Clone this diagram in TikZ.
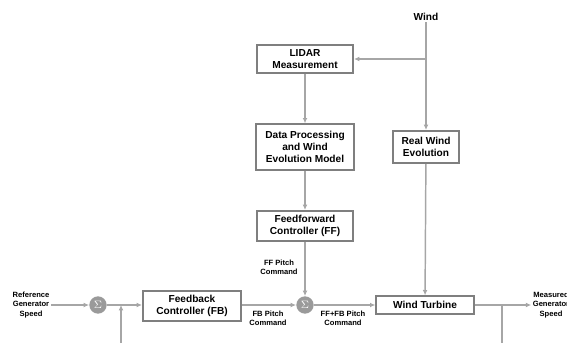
\documentclass[tikz,border=0pt]{standalone}
\usepackage{fontspec}
\setmainfont{Liberation Sans}
\usetikzlibrary{arrows.meta}
\definecolor{boxgray}{HTML}{7F7F7F}
\definecolor{linegray}{HTML}{A6A6A6}
\definecolor{sumgray}{HTML}{9A9A9A}
\tikzset{
  block/.style={draw=boxgray, line width=1.5pt, fill=white, align=center, inner sep=0pt,
    font=\bfseries\fontsize{7.6}{9.2}\selectfont},
  sumnode/.style={circle, fill=sumgray, minimum size=13pt, inner sep=0pt, text=white,
    font=\fontsize{8}{8}\selectfont},
  sig/.style={align=center, inner sep=1pt, font=\bfseries\fontsize{5.7}{6.8}\selectfont},
  flow/.style={draw=linegray, line width=1.1pt, -{Latex[length=4pt,width=3.6pt]}},
  wire/.style={draw=linegray, line width=1.1pt}
}
\begin{document}
\begin{tikzpicture}[x=0.75pt,y=-0.75pt]
    \useasboundingbox (0,0) rectangle (567,343);

    \node[sig, font=\bfseries\fontsize{7.6}{8}\selectfont] (wind) at (426, 17) {Wind};
    \coordinate (tap) at (426, 59);

    \node[block, minimum width=72pt, minimum height=21pt] (lidar) at (305, 59) {LIDAR\\Measurement};
    \node[block, minimum width=73pt, minimum height=34pt] (dataproc) at (305, 147) {Data Processing\\and Wind\\Evolution Model};
    \node[block, minimum width=72pt, minimum height=22.5pt] (ffctrl) at (305, 226) {Feedforward\\Controller (FF)};
    \node[block, minimum width=50pt, minimum height=24pt] (realwind) at (426, 147) {Real Wind\\Evolution};

    \node[sig] (ref) at (31, 305) {Reference\\Generator\\Speed};
    \node[sumnode] (sumfb) at (98, 305) {$\Sigma$};
    \node[block, minimum width=73.5pt, minimum height=22pt] (fbctrl) at (192, 306) {Feedback\\Controller (FB)};
    \node[sumnode] (sumff) at (305, 305) {$\Sigma$};
    \node[block, minimum width=73pt, minimum height=13pt] (turbine) at (425, 305) {Wind Turbine};
    \node[sig] (meas) at (551, 305) {Measured\\Generator\\Speed};

    \node[sig] (fflabel) at (279, 267) {FF Pitch\\Command};
    \node[sig] (fblabel) at (268, 318) {FB Pitch\\Command};
    \node[sig] (sumlabel) at (343, 318) {FF+FB Pitch\\Command};

    \coordinate (fbtap) at (502, 305);
    \coordinate (fbout) at (502, 343);
    \coordinate (fbin) at (121, 343);
    \coordinate (fbjoin) at (121, 305);

    \draw[flow] (wind) -- (realwind);
    \draw[flow] (realwind) -- (turbine);
    \draw[flow] (tap) -- (lidar);
    \draw[flow] (lidar) -- (dataproc);
    \draw[flow] (dataproc) -- (ffctrl);
    \draw[flow] (ffctrl) -- (sumff);

    \draw[flow] (ref) -- (sumfb);
    \draw[flow] (sumfb) -- (fbctrl.west |- sumfb);
    \draw[flow] (fbctrl.east |- sumff) -- (sumff);
    \draw[flow] (sumff) -- (turbine);
    \draw[flow] (turbine) -- (meas);
    \draw[wire] (fbtap) -- (fbout);
    \draw[flow] (fbin) -- (fbjoin);
\end{tikzpicture}
\end{document}
